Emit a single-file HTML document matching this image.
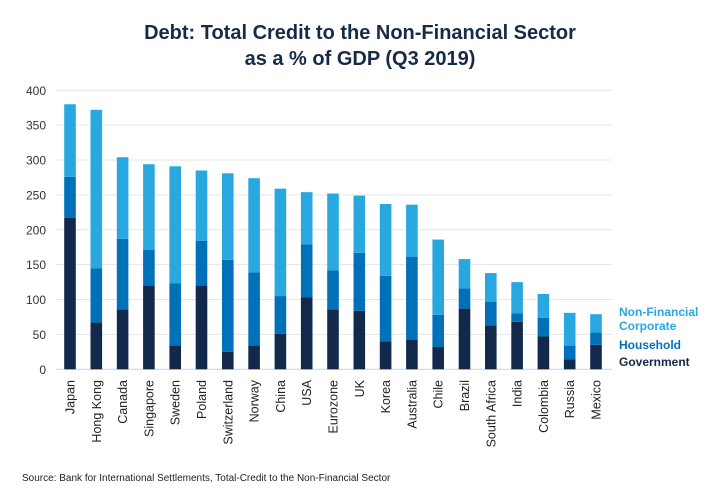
<!DOCTYPE html>
<html><head><meta charset="utf-8"><style>
body{margin:0;background:#fff;font-family:"Liberation Sans",sans-serif;}
svg{display:block}
</style></head><body>
<svg id="chart" width="720" height="500" xmlns="http://www.w3.org/2000/svg">
<text x="360" y="39" text-anchor="middle" font-size="20" font-weight="bold" fill="#172a48">Debt: Total Credit to the Non-Financial Sector</text>
<text x="360" y="65" text-anchor="middle" font-size="20" font-weight="bold" fill="#172a48">as a % of GDP (Q3 2019)</text>
<g id="grid"></g><g id="bars"></g><g id="xlabels"></g>
<text x="619" y="316" font-size="12" font-weight="bold" fill="#29a8e0"><tspan x="619">Non-Financial</tspan><tspan x="619" dy="14">Corporate</tspan></text>
<text x="619" y="349" font-size="12" font-weight="bold" fill="#0070b8">Household</text>
<text x="619" y="366" font-size="12" font-weight="bold" fill="#13294b">Government</text>
<text x="22" y="481" font-size="10" fill="#222">Source: Bank for International Settlements, Total-Credit to the Non-Financial Sector</text>
</svg>
<script>
const categories=["Japan","Hong Kong","Canada","Singapore","Sweden","Poland","Switzerland","Norway","China","USA","Eurozone","UK","Korea","Australia","Chile","Brazil","South Africa","India","Colombia","Russia","Mexico"];
const totals=[380,372,304,294,291,285,281,274,259,254,252,249,237,236,186,158,138,125,108,81,79];
const householdTops=[276,145,187,171,123,184,157,139,105,179,142,167,134,161,78,116,97,80,74,34,53];
const government=[217,67,86,120,34,120,25,34,51,103,86,84,40,42,32,87,63,68,47,14,35];
const yTicks=[0,50,100,150,200,250,300,350,400];
const NS="http://www.w3.org/2000/svg";
const y0=369.3,pxPer=0.6975;
const yScale=v=>y0-v*pxPer;
const xScale=i=>70+26.3*i;
const bw=11.6;
const grid=document.getElementById('grid'),bars=document.getElementById('bars'),xl=document.getElementById('xlabels');
function mk(tag,attrs,parent){const e=document.createElementNS(NS,tag);for(const k in attrs)e.setAttribute(k,attrs[k]);parent.appendChild(e);return e;}
yTicks.forEach(t=>{
  const l=mk('line',{x1:56,x2:612,y1:yScale(t),y2:yScale(t),stroke:t===0?'#d0d0d0':'#e6e6e6','stroke-width':1},grid);
  
  
  const tx=mk('text',{x:46,y:yScale(t)+4.5,'text-anchor':'end','font-size':12,fill:'#333'},grid);
  tx.textContent=t;
  
  
});
categories.forEach((c,i)=>{
  const x=xScale(i)-bw/2;
  const segs=[[0,government[i],'#13294b','government'],[government[i],householdTops[i],'#0070b8','household'],[householdTops[i],totals[i],'#29a8e0','corporate']];
  segs.forEach(s=>{
    const r=mk('rect',{x:x,y:yScale(s[1]),width:bw,height:yScale(s[0])-yScale(s[1]),fill:s[2]},bars);
    
    
  });
  const t=mk('text',{transform:`translate(${xScale(i)+4.5},380) rotate(-90)`,'text-anchor':'end','font-size':12.5,fill:'#222'},xl);
  t.textContent=c;
  
  
});
</script>
</body></html>
